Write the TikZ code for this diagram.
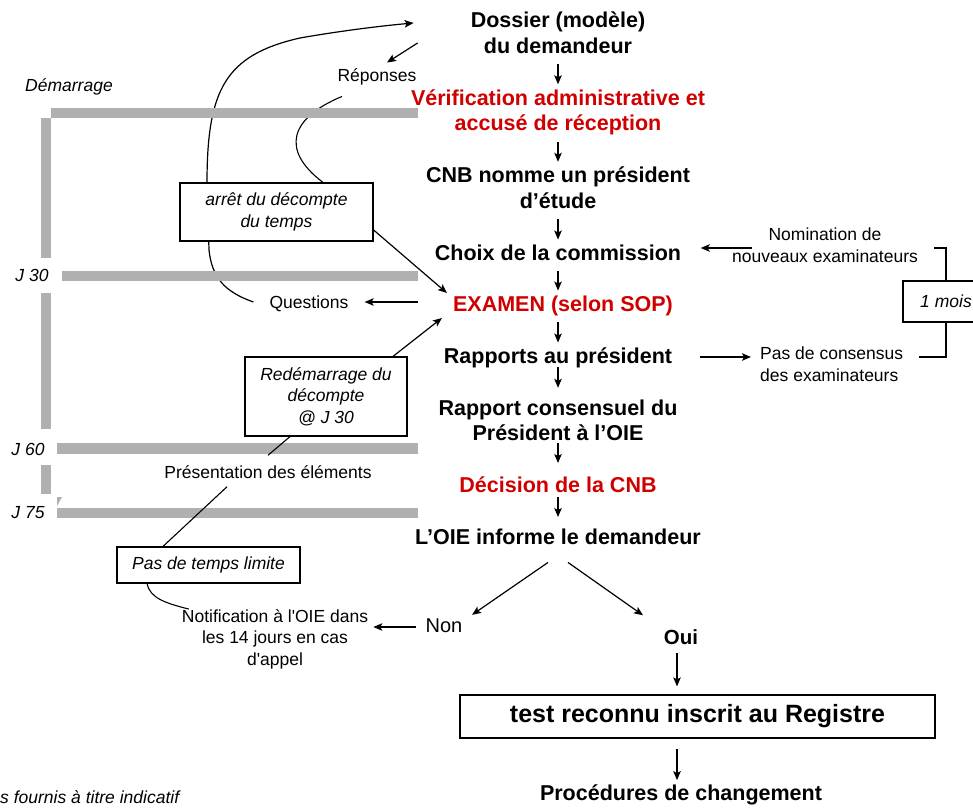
\documentclass[tikz,border=0pt]{standalone}
\usepackage{fontspec}
\setmainfont{Liberation Sans}
\usetikzlibrary{arrows.meta,calc}
\definecolor{barg}{RGB}{176,176,176}
\definecolor{redt}{RGB}{208,0,0}
\pgfdeclarelayer{behind}
\pgfsetlayers{behind,main}
\begin{document}
\begin{tikzpicture}[x=1pt,y=-1pt,
  arr/.style={line width=1.2pt,-{Stealth[length=9pt,width=7.5pt,inset=2pt]}},
  ln/.style={line width=1.1pt},
  stepnode/.style={font=\bfseries\fontsize{21.5}{25.5}\selectfont, align=center, inner xsep=0pt, inner ysep=3pt},
  redstep/.style={stepnode, text=redt},
  sm/.style={font=\fontsize{17.5}{21.5}\selectfont, align=center, inner sep=0pt},
  smit/.style={font=\itshape\fontsize{17.5}{21.5}\selectfont, align=center, inner sep=0pt},
  ibox/.style={smit, draw, line width=1.2pt, fill=white}]
\useasboundingbox (0,0) rectangle (973,810);
\clip (0,0) rectangle (973,810);

% grey time bars
\fill[barg] (51,108) rectangle (418,118);
\fill[barg] (41,118) rectangle (51,258);
\fill[barg] (62,271) rectangle (418,281);
\fill[barg] (41,293) rectangle (51,429);
\fill[barg] (57,443) rectangle (418,454);
\fill[barg] (41,465) rectangle (51,494);
\fill[barg] (57,497) -- (62,497) -- (57,506) -- cycle;
\fill[barg] (57,508) rectangle (418,518);

% main column
\node[stepnode] (dossier) at (558,35.5) {Dossier (modèle)\strut\\du demandeur\strut};
\node[redstep] (verif) at (558,113) {Vérification administrative et\strut\\accusé de réception\strut};
\node[stepnode] (cnb) at (558,190.5) {CNB nomme un président\strut\\d’étude\strut};
\node[stepnode] (choix) at (558,255.5) {Choix de la commission\strut};
\node[redstep] (examen) at (563,306.5) {EXAMEN (selon SOP)\strut};
\node[stepnode] (rapports) at (558,358.5) {Rapports au président\strut};
\node[stepnode] (consensuel) at (558,423) {Rapport consensuel du\strut\\Président à l’OIE\strut};
\node[redstep] (decision) at (558,487.5) {Décision de la CNB\strut};
\node[stepnode] (oie) at (558,539.5) {L’OIE informe le demandeur\strut};
\node[sm, font=\fontsize{20}{24}\selectfont] (non) at (444,626) {Non};
\node[sm, font=\bfseries\fontsize{20.5}{24}\selectfont] (oui) at (681,637) {Oui};
\node[font=\bfseries\fontsize{25}{30}\selectfont, draw, line width=1.2pt, minimum width=475pt, minimum height=43pt, inner sep=0pt] (reg) at (697.5,716.5) {test reconnu inscrit au Registre};
\node[stepnode, inner ysep=0pt] (proc) at (681,795) {Procédures de changement};

% side texts
\node[sm] (reponses) at (377,77) {Réponses};
\node[sm] (questions) at (309,304) {Questions};
\node[sm] (present) at (268,472) {Présentation des éléments};
\node[sm] (notif) at (275,639) {Notification à l\textquotesingle OIE dans\\les 14 jours en cas\\d\textquotesingle appel};
\node[sm] (nomination) at (825,245) {Nomination de\\nouveaux examinateurs};
\node[sm, align=left, anchor=west] (consensus) at (760,364) {Pas de consensus\\des examinateurs};

\node[smit] (demarrage) at (69,87) {Démarrage};
\node[smit] (j30) at (32,275) {J 30};
\node[smit] (j60) at (28,449) {J 60};
\node[smit] (j75) at (28,513) {J 75};
\node[smit, anchor=west] (note) at (0,797) {s fournis à titre indicatif};

% boxes
\node[ibox, minimum width=193pt, minimum height=58pt] (arret) at (276.5,212) {arrêt du décompte\\du temps};
\node[ibox, minimum width=162pt, minimum height=79pt] (redem) at (326,396.5) {Redémarrage du\\décompte\\@ J 30};
\node[ibox, minimum width=183pt, minimum height=36pt] (pas) at (208.5,565) {Pas de temps limite};
\node[ibox, minimum width=86pt, minimum height=41pt] (mois) at (946,301.5) {1 mois};

% curves behind the boxes
\begin{pgfonlayer}{behind}
\draw[arr] ($(questions.west)+(-16,-2)$) .. controls (225,292) and (212,278) .. (209,250)
   -- (207,183) .. controls (207,90) and (225,55) .. (300,38)
   .. controls (340,31) and (380,26) .. ($(dossier.west)+(-57,-12.5)$);
\draw[ln] ($(reponses.south)+(-35,11)$) .. controls (290,118) and (280,150) .. ($(arret.north)+(46.5,0)$);
\end{pgfonlayer}

% main arrows
\draw[arr] (dossier.south) -- (verif.north);
\draw[arr] (verif.south) -- (cnb.north);
\draw[arr] (cnb.south) -- (choix.north);
\draw[arr] (choix.south) -- (choix.south |- examen.north);
\draw[arr] (examen.south -| rapports.north) -- (rapports.north);
\draw[arr] ($(rapports.south)+(0,-7)$) -- ($(consensuel.north)+(0,-6.5)$);
\draw[arr] ($(consensuel.south)+(0,-8.5)$) -- ($(decision.north)+(0,-8.5)$);
\draw[arr] ($(decision.south)+(0,-6)$) -- ($(oie.north)+(0,-6.5)$);
\draw[arr] ($(oie.south)+(-10,7)$) -- ($(non.north east)+(9.5,-4)$);
\draw[arr] ($(oie.south)+(10,7)$) -- ($(oui.north)+(-38,-14)$);
\draw[arr] ($(oui.south)+(-4,8)$) -- ($(reg.north)+(-20.5,-8)$);
\draw[arr] ($(reg.south)+(-20.5,10)$) -- ($(proc.north)+(-4,-4.5)$);

% side arrows
\draw[arr] ($(dossier.west)+(-53,7.5)$) -- ($(reponses.north)+(10,-6)$);
\draw[arr] ($(arret.east)+(0,18)$) -- ($(examen.west)+(-6,-13.5)$);
\draw[arr] ($(examen.west)+(-35,-4.5)$) -- ($(questions.east)+(16,-2)$);
\draw[arr] ($(redem.north)+(67,0)$) -- ($(examen.west)+(-11,11.5)$);
\draw[ln] ($(redem.south)+(-36,0)$) -- ($(present.north)+(0,-10)$);
\draw[ln] ($(present.south)+(-41,8)$) -- ($(pas.north)+(-45.5,0)$);
\draw[ln] ($(pas.south)+(-61.5,0)$) .. controls (150,598) and (165,603) .. ($(notif.north west)+(7,0)$);
\draw[arr] ($(non.west)+(-9,1)$) -- ($(notif.east |- non.west)+(5,1)$);
\draw[arr] ($(rapports.east)+(28,-1.5)$) -- ($(consensus.west)+(-9,-7)$);
\draw[arr] ($(nomination.west)+(20,3)$) -- ($(choix.east)+(19.5,-7.5)$);
\coordinate (ct) at (934,248);
\coordinate (cb) at (919,357);
\draw[ln] (ct) -| (mois.north);
\draw[ln] (mois.south) |- (cb);
\end{tikzpicture}
\end{document}
